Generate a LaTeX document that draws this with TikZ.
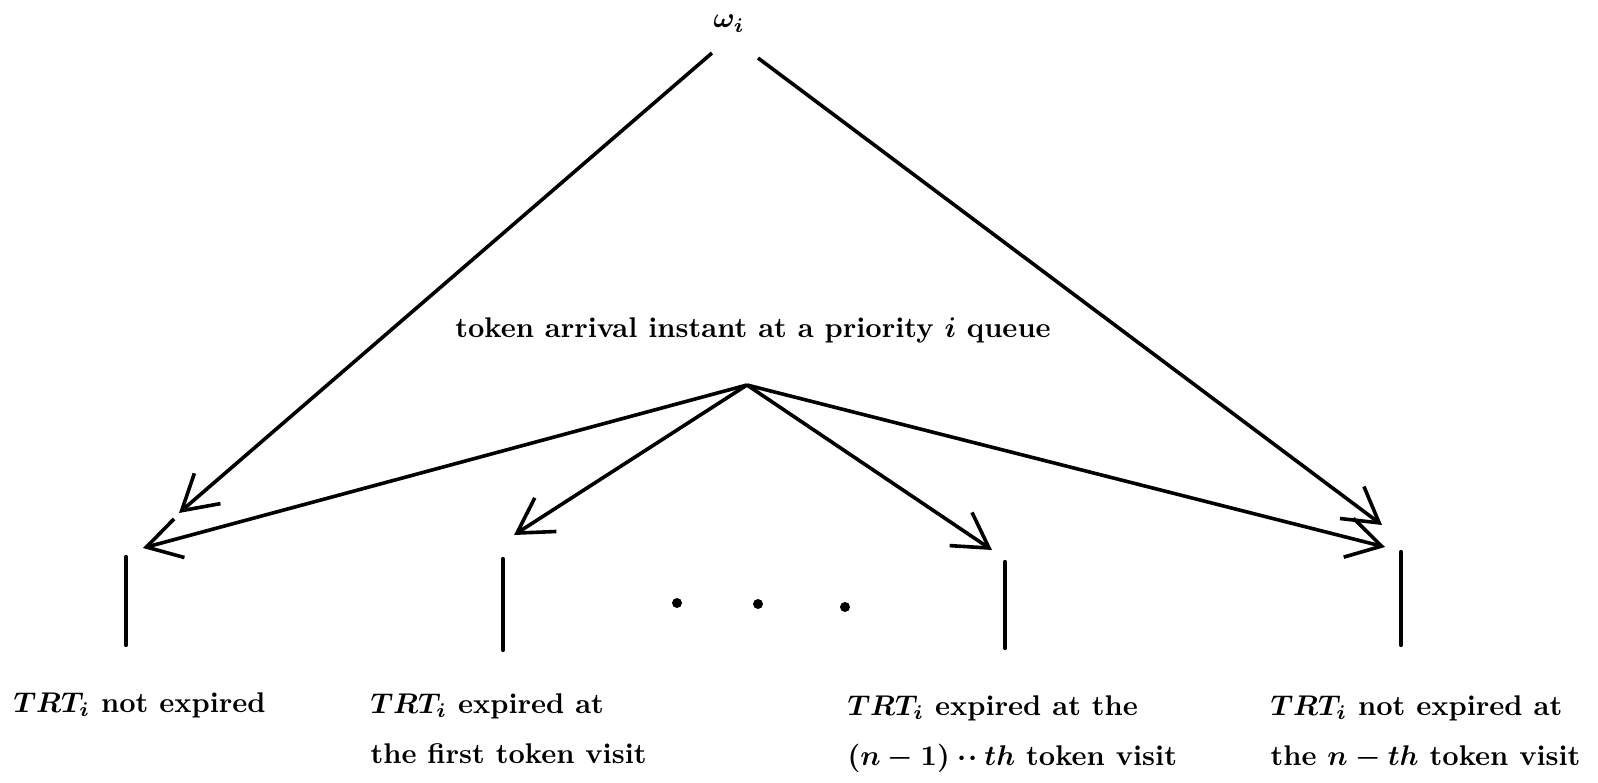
\documentclass[tikz,border=0pt]{standalone}
\usetikzlibrary{arrows.meta}

\begin{document}
\begin{tikzpicture}[x=1pt,y=-1pt,
  conn/.style={line width=3.6pt, -{Straight Barb[length=34pt,width=40pt]}},
  bar/.style={line width=4.2pt, line cap=round},
  txt/.style={inner sep=0pt, scale=2.85,
    font=\fontsize{10}{17.5}\selectfont\bfseries\boldmath},
  lbl/.style={txt, align=left, anchor=base west},
  pt/.style={circle, fill, inner sep=0pt, minimum size=10pt}]

  \useasboundingbox (0,0) rectangle (1598,783);

  % top label and the two long branches
  \node[txt, anchor=base] (w) at (729,28) {$\omega_i$};
  \coordinate (wL) at (712,53);
  \coordinate (wR) at (758,58);

  % token arrival instant
  \node[txt, anchor=base] (tok) at (753,338) {token arrival instant at a priority $i$ queue};
  \coordinate (hub) at (747,385);

  % arrow tips above the bars
  \coordinate (tL) at (179,513);
  \coordinate (tR) at (1382,525);
  \coordinate (a1) at (143,548);
  \coordinate (a2) at (514,535);
  \coordinate (a3) at (992,550);
  \coordinate (a4) at (1385,547);

  % bars
  \coordinate (b1t) at (126,557);  \coordinate (b1b) at (126,645);
  \coordinate (b2t) at (503,559);  \coordinate (b2b) at (503,650);
  \coordinate (b3t) at (1005,562); \coordinate (b3b) at (1005,648);
  \coordinate (b4t) at (1401,552); \coordinate (b4b) at (1401,645);

  \draw[conn] (wL) -- (tL);
  \draw[conn] (wR) -- (tR);
  \draw[conn] (hub) -- (a1);
  \draw[conn] (hub) -- (a2);
  \draw[conn] (hub) -- (a3);
  \draw[conn] (hub) -- (a4);

  \draw[bar] (b1t) -- (b1b);
  \draw[bar] (b2t) -- (b2b);
  \draw[bar] (b3t) -- (b3b);
  \draw[bar] (b4t) -- (b4b);

  % ellipsis between the middle bars
  \node[pt] (d1) at (677,603) {};
  \node[pt] (d2) at (758,604) {};
  \node[pt] (d3) at (845,607) {};

  % outcome labels (base anchor sits on the last line)
  \node[lbl] (l1) at (13,712) {$TRT_i$ not expired};
  \node[lbl] (l2) at (370,763) {$TRT_i$ expired at\\the first token visit};
  \node[lbl] (l3) at (847,765) {$TRT_i$ expired at the\\$(n-1)\mathbin{\cdot\mkern1mu\cdot} th$ token visit};
  \node[lbl] (l4) at (1270,765) {$TRT_i$ not expired at\\the $n-th$ token visit};
\end{tikzpicture}
\end{document}
